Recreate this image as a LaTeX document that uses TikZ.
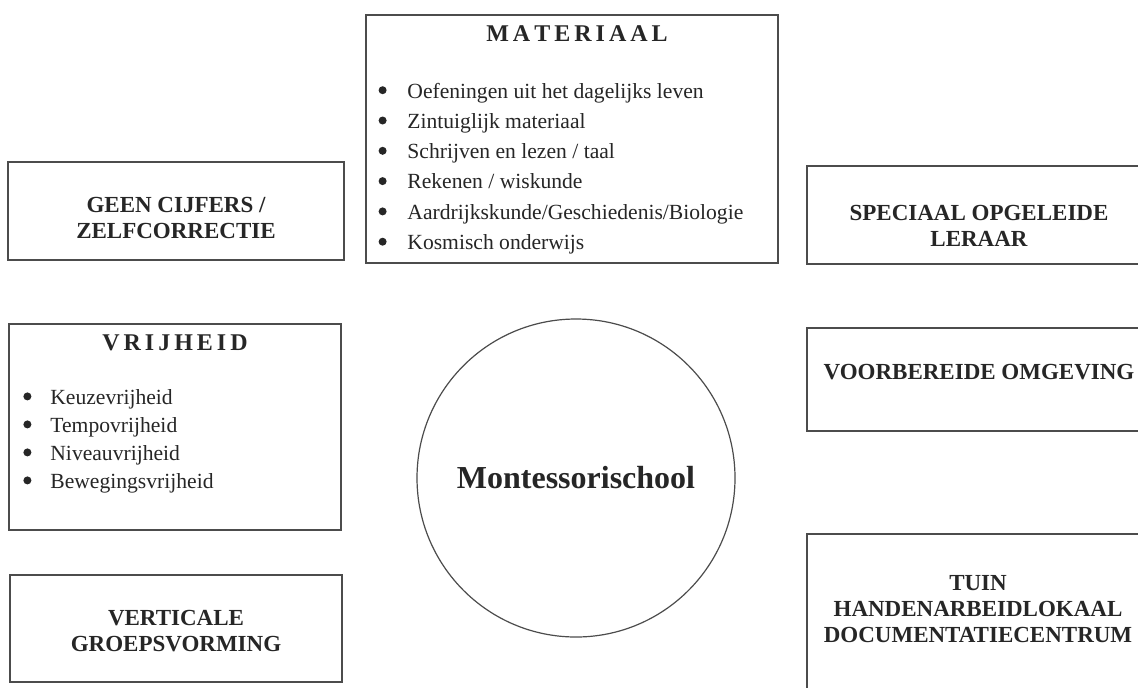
\documentclass[tikz,border=0pt]{standalone}
\usepackage{fontspec}
\setmainfont{Liberation Serif}
\usetikzlibrary{fit,positioning}
\tikzset
{
    kader/.style    = {rectangle, draw=black!70, line width=0.7pt, inner sep=0pt},
    kop/.style      = {align=center, font=\fontsize{11.5}{13}\selectfont\bfseries, text=black!85},
    spatiekop/.style= {font=\fontsize{12}{14}\selectfont\bfseries, text=black!85},
    punt/.style     = {anchor=base west, inner sep=0pt, font=\fontsize{10.8}{13}\selectfont, text=black!85},
    bolletje/.style = {fill=black!85},
    kern/.style     = {circle, draw=black!70, line width=0.6pt, minimum size=159pt, inner sep=0pt, font=\fontsize{16}{19}\selectfont\bfseries, text=black!85}
}

\begin{document}
\begin{tikzpicture}[x=0.5pt, y=-0.5pt]
\useasboundingbox[fill=white] (0,0) rectangle (1138,687);
% kaders links
\node(geen) [kader, fit={(8,162) (344,260)}] {};
\node(vrij) [kader, fit={(9,324) (341,530)}] {};
\node(vert) [kader, fit={(10,575) (342,682)}] {};
% kader boven
\node(mat) [kader, fit={(366,15) (778,263)}] {};
% kaders rechts (lopen door over de rand)
\node(spec) [kader, fit={(807,166) (1151,264)}] {};
\node(voor) [kader, fit={(807,328) (1151,431)}] {};
\node(tuin) [kader, fit={(807,534) (1151,700)}] {};
% midden
\node(school) [kern] at (576,478) {Montessorischool};
% teksten
\node(geentxt) [kop] at (176,217.5) {GEEN CIJFERS /\\ZELFCORRECTIE};
\node(verttxt) [kop] at (176,631) {VERTICALE\\GROEPSVORMING};
\node(spectxt) [kop] at (979,226) {SPECIAAL OPGELEIDE\\LERAAR};
\node(voortxt) [kop] at (979,372) {VOORBEREIDE OMGEVING};
\node(tuintxt) [kop] at (978,609) {TUIN\\HANDENARBEIDLOKAAL\\DOCUMENTATIECENTRUM};
\node(mattit) [spatiekop] at (577,34) {M\,A\,T\,E\,R\,I\,A\,A\,L};
\node(vrijtit) [spatiekop] at (175,343) {V\,R\,I\,J\,H\,E\,I\,D};
% opsommingen
\foreach \tekst [count=\i] in {Oefeningen uit het dagelijks leven, Zintuiglijk materiaal, Schrijven en lezen / taal, Rekenen / wiskunde, Aardrijkskunde/Geschiedenis/Biologie, Kosmisch onderwijs}
{
    \node(mat\i) [punt] at (407,{98+(\i-1)*30.3}) {\tekst};
    \fill[bolletje] ([shift={(-12.2pt,3.9pt)}]mat\i.base west) circle (2pt);
}
\foreach \tekst [count=\i] in {Keuzevrijheid, Tempovrijheid, Niveauvrijheid, Bewegingsvrijheid}
{
    \node(vrij\i) [punt] at (50,{404+(\i-1)*28}) {\tekst};
    \fill[bolletje] ([shift={(-11.3pt,3.8pt)}]vrij\i.base west) circle (2pt);
}
\end{tikzpicture}
\end{document}
